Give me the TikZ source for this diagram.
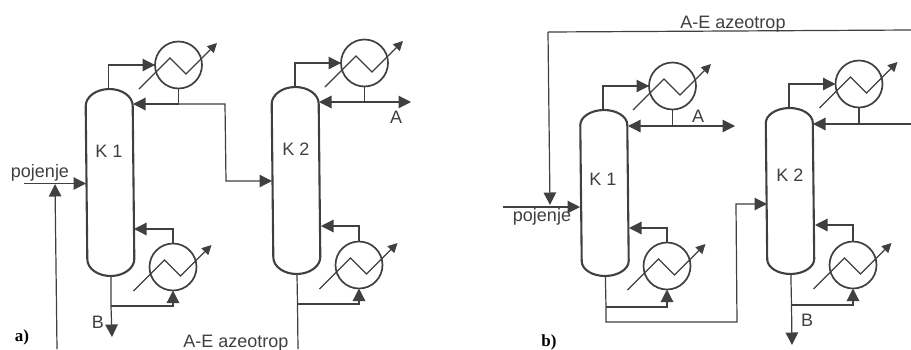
\documentclass[tikz,border=0pt]{standalone}
\usepackage{fontspec}
\setmainfont{Liberation Sans}
\newfontfamily\panelfont{Liberation Serif}
\usetikzlibrary{arrows.meta,calc}
\definecolor{ink}{HTML}{404040}
\tikzset{
  column/.style={minimum width=47pt,inner sep=0pt,outer sep=0pt,rotate=0.6},
  cooler/.style={circle,draw=ink,line width=1.7pt,minimum size=47pt,inner sep=0pt,outer sep=0pt},
  shell/.style={draw=ink,line width=2.1pt},
  pipe/.style={draw=ink,line width=1.2pt},
  flow/.style={pipe,-{Triangle[length=12.5pt,width=12.5pt,color=ink]}},
  coil/.style={draw=ink,line width=1.2pt,line join=miter,-{Triangle[length=9.5pt,width=9.5pt,color=ink]}},
  lab/.style={text=ink,inner sep=0pt,font=\fontsize{18pt}{20pt}\selectfont},
  feedlab/.style={text=ink,inner sep=0pt,font=\fontsize{18pt}{20pt}\selectfont},
  panel/.style={text=black,inner sep=0pt,font=\panelfont\bfseries\fontsize{17pt}{18pt}\selectfont},
}
\newcommand{\colshape}[1]{%
  \path[shell]
    ($(#1.north west)!0.09!(#1.south west)$)
    .. controls ($($(#1.north west)!0.09!(#1.south west)$)!0.55!(#1.north west)$) and ($(#1.north)!0.55!(#1.north west)$) .. (#1.north)
    .. controls ($(#1.north)!0.55!(#1.north east)$) and ($($(#1.north east)!0.09!(#1.south east)$)!0.55!(#1.north east)$) .. ($(#1.north east)!0.09!(#1.south east)$)
    -- ($(#1.north east)!0.91!(#1.south east)$)
    .. controls ($($(#1.north east)!0.91!(#1.south east)$)!0.55!(#1.south east)$) and ($(#1.south)!0.55!(#1.south east)$) .. (#1.south)
    .. controls ($(#1.south)!0.55!(#1.south west)$) and ($($(#1.north west)!0.91!(#1.south west)$)!0.55!(#1.south west)$) .. ($(#1.north west)!0.91!(#1.south west)$)
    -- cycle;}
\newcommand{\coilin}[1]{%
  \draw[coil] ($(#1.center)+(-39.5,24)$) -- ++(31,-31) -- ++(16,16) -- ++(31,-31);}
\begin{document}
\begin{tikzpicture}[x=1pt,y=-1pt]
\useasboundingbox[fill=white] (0,0) rectangle (911,349);
%% ---------- panel a
\node[column,minimum height=187pt] (aK1) at (110,182.5) {};
\node[column,minimum height=187pt] (aK2) at (296,180.5) {};
\colshape{aK1}\colshape{aK2}
\node[lab] (aK1t) at (109,151) {K 1};
\node[lab] (aK2t) at (296,149) {K 2};
\node[cooler] (aC1) at (178.5,65) {};
\node[cooler] (aR1) at (173,267) {};
\node[cooler] (aC2) at (364.5,63) {};
\node[cooler] (aR2) at (359,265) {};
\foreach \n in {aC1,aR1,aC2,aR2}{\coilin{\n}}
\draw[flow] (108.5,89) coordinate (aK1top) |- (aC1.west);
\draw[flow] (295,87) coordinate (aK2top) |- (aC2.west);
% K1 reflux and transfer to K2
\coordinate (aT1) at (aC1.south |- 0,104);
\coordinate (aCorner1) at (225,104);
\coordinate (aCorner2) at (226,181);
\coordinate (aK1ref) at (133,104);
\coordinate (aK2feed) at (272,181);
\draw[pipe] (aC1.south) -- (aT1);
\draw[flow] (aT1) -- (aK1ref);
\draw[flow] (aT1) -- (aCorner1) -- (aCorner2) -- (aK2feed);
% K1 bottom
\coordinate (aK1re) at (134,229);
\draw[flow] (aR1.north) |- (aK1re);
\coordinate (aBot1) at (111,306);
\coordinate (aBend1) at (aR1.south |- 0,306);
\draw[flow] (aK1.south) -- (aBot1) -- (112,337);
\node[lab] (aB) at (98,322) {B};
\draw[flow] (aBot1) -- (aBend1) -- (aR1.south);
% K2 top
\coordinate (aT2) at (aC2.south |- 0,102);
\coordinate (aK2ref) at (319,102);
\coordinate (aAend) at (411,102);
\draw[pipe] (aC2.south) -- (aT2);
\draw[flow] (aT2) -- (aK2ref);
\draw[flow] (aT2) -- (aAend);
\node[lab] (aA) at (396,117) {A};
% K2 bottom
\coordinate (aK2re) at (321,226);
\draw[flow] (aR2.north) |- (aK2re);
\coordinate (aBot2) at (297.5,304);
\coordinate (aBend2) at (aR2.south |- 0,304);
\coordinate (aOut) at (298,349);
\draw[pipe] (aK2.south) -- (aBot2) -- (aOut);
\draw[flow] (aBot2) -- (aBend2) -- (aR2.south);
\node[lab,anchor=base] (aAE) at (236,347) {A-E azeotrop};
% feed
\coordinate (aIn) at (24,183.5);
\coordinate (aK1feed) at (86,183.5);
\coordinate (aMix) at (55,184);
\coordinate (aFrom) at (57,349);
\draw[flow] (aIn) -- (aK1feed);
\draw[flow] (aFrom) -- (aMix);
\node[feedlab] (aP) at (40,173) {pojenje};
\node[panel] (aLab) at (22,337) {a)};
%% ---------- panel b
\node[column,minimum height=166pt] (bK1) at (604.5,193) {};
\node[column,minimum height=166pt] (bK2) at (790,191) {};
\colshape{bK1}\colshape{bK2}
\node[lab] (bK1t) at (603,179) {K 1};
\node[lab] (bK2t) at (790,175) {K 2};
\node[cooler] (bC1) at (672.5,86) {};
\node[cooler] (bR1) at (667,266) {};
\node[cooler] (bC2) at (859,84) {};
\node[cooler] (bR2) at (853,265) {};
\foreach \n in {bC1,bR1,bC2,bR2}{\coilin{\n}}
\draw[flow] (603,110) coordinate (bK1top) |- (bC1.west);
\draw[flow] (789,108) coordinate (bK2top) |- (bC2.west);
% K1 top
\coordinate (bT1) at (bC1.south |- 0,126);
\coordinate (bK1ref) at (628,126);
\coordinate (bAend) at (735,126);
\draw[pipe] (bC1.south) -- (bT1);
\draw[flow] (bT1) -- (bK1ref);
\draw[flow] (bT1) -- (bAend);
\node[lab] (bA) at (698,116) {A};
% K1 bottom and transfer
\coordinate (bK1re) at (629,228);
\draw[flow] (bR1.north) |- (bK1re);
\coordinate (bBot1) at (606,307);
\coordinate (bBend1) at (bR1.south |- 0,307);
\coordinate (bLow) at (606,322);
\coordinate (bLow2) at (737,322);
\coordinate (bUp) at (736,204);
\coordinate (bK2feed) at (767,204);
\draw[pipe] (bK1.south) -- (bBot1);
\draw[flow] (bBot1) -- (bBend1) -- (bR1.south);
\draw[flow] (bBot1) -- (bLow) -- (bLow2) -- (bUp) -- (bK2feed);
% K2 top and recycle
\coordinate (bT2) at (bC2.south |- 0,124);
\coordinate (bK2ref) at (813,124);
\coordinate (bRecEnd) at (911,124);
\draw[pipe] (bC2.south) -- (bT2);
\draw[flow] (bT2) -- (bK2ref);
\draw[pipe] (bT2) -- (bRecEnd);
% K2 bottom
\coordinate (bK2re) at (815,225);
\draw[flow] (bR2.north) |- (bK2re);
\coordinate (bBot2) at (791.5,305);
\coordinate (bBend2) at (bR2.south |- 0,305);
\coordinate (bOut) at (792,345);
\draw[flow] (bK2.south) -- (bBot2) -- (bOut);
\draw[flow] (bBot2) -- (bBend2) -- (bR2.south);
\node[lab] (bB) at (807,320) {B};
% feed and recycle
\coordinate (bIn) at (503,207);
\coordinate (bK1feed) at (580,207);
\coordinate (bRecStart) at (911,30);
\coordinate (bRecCorner) at (548,32);
\coordinate (bMix) at (550,205);
\draw[flow] (bIn) -- (bK1feed);
\draw[pipe] (bRecStart) -- (bRecCorner);
\draw[flow] (bRecCorner) -- (bMix);
\node[lab,anchor=base] (bAE) at (733,28) {A-E azeotrop};
\node[feedlab] (bP) at (542,217) {pojenje};
\node[panel] (bLab) at (549,342) {b)};
\end{tikzpicture}
\end{document}
